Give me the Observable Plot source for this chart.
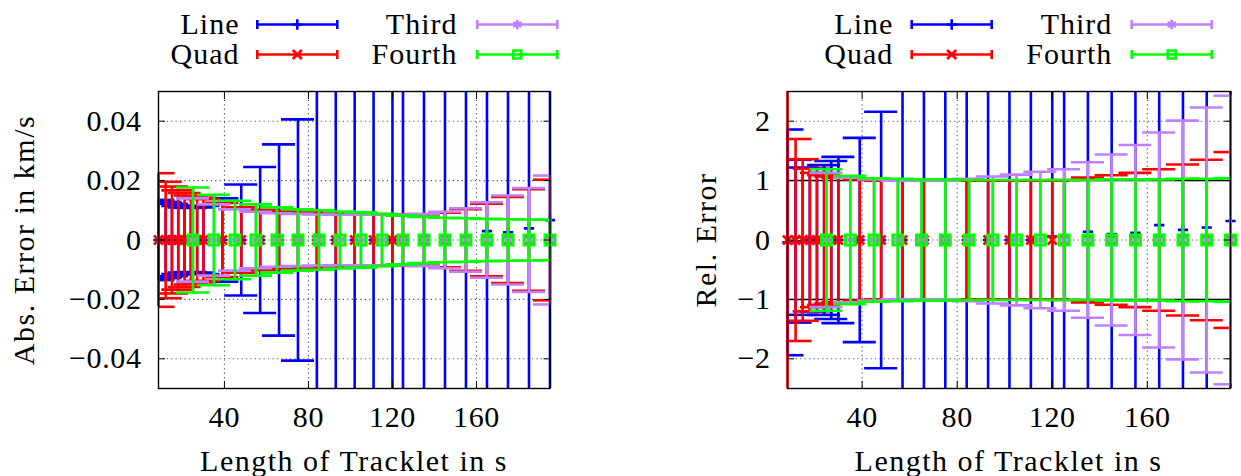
<!DOCTYPE html>
<html><head><meta charset="utf-8">
<script src="https://cdn.jsdelivr.net/npm/d3@7"></script>
<script src="https://cdn.jsdelivr.net/npm/@observablehq/plot@0.6"></script>
<style>
html,body{margin:0;padding:0;background:#fff;}
#root{position:relative;width:1241px;height:476px;overflow:hidden;}
#root svg{position:absolute;top:0;}
</style></head><body><div id="root"></div>
<script>
// ---------- data ----------
const seriesNames = ["Line", "Quad", "Third", "Fourth"];
const seriesColors = ["#0000ff", "#ff0000", "#c080ff", "#00ff00"];
const seriesSymbols = ["plus", "times", "asterisk", "square"];

const xTicks = [40, 80, 120, 160];
const absTicks = [-0.04, -0.02, 0, 0.02, 0.04];
const relTicks = [-2, -1, 0, 1, 2];
const relRefLines = [-1, 1];

// tracklet lengths (s) used by Line / Quad and by Third / Fourth
const xA = [8.6, 12, 15, 18, 21, 24, 27, 30, 39, 48, 57, 66, 75, 84, 93, 102, 111, 120, 125, 135, 145, 155, 165, 175, 185, 195];
const xB = [25, 35, 45, 55, 65, 75, 85, 95, 105, 115, 125, 135, 145, 155, 165, 175, 185, 195];

// absolute error (km/s): mean and standard deviation
const lineAbsMean = [0,0,0,0,0,0,0,0,0,0,0,0,0,0,0,0,0,0,0,0,0,0.001,0.003,0.0026,0.0039,0.0067];
const lineAbsErr = [0.0135,0.0128,0.0122,0.0115,0.011,0.0108,0.011,0.0115,0.014,0.0187,0.0246,0.0322,0.0406,0.052,0.065,0.08,0.095,0.11,0.12,0.14,0.16,0.18,0.2,0.22,0.25,0.28];
const quadAbsErr = [0.0225,0.0196,0.018,0.0167,0.0158,0.015,0.0143,0.0137,0.0125,0.011,0.0102,0.0098,0.0095,0.0093,0.009,0.0088,0.0087,0.0086,0.0086,0.0086,0.0092,0.0104,0.0122,0.0145,0.0171,0.0203];
const thirdAbsErr = [0.014,0.012,0.0103,0.0095,0.009,0.0088,0.0086,0.0085,0.0085,0.0086,0.0086,0.0088,0.0095,0.0107,0.0127,0.015,0.0175,0.0217];
const fourthAbsErr = [0.0177,0.0152,0.0132,0.012,0.011,0.0103,0.01,0.0096,0.0093,0.0088,0.0082,0.0078,0.0075,0.0073,0.0071,0.007,0.0069,0.0068];

// relative error: mean and standard deviation
const lineRelMean = [-0.04,-0.02,-0.02,0,0,0,0,0,0,0,0,0,0,0,0,0,0,0.06,0.08,0.14,0.1,0.12,0.25,0.17,0.21,0.32];
const lineRelErr = [1.9,1.37,1.24,1.2,1.2,1.26,1.33,1.4,1.72,2.16,2.8,3.5,4.2,5,6,7,8,9,10,11,12,13,14,15,16,17];
const quadRelErr = [3.5,1.7,1.36,1.2,1.13,1.09,1.07,1.05,1.02,1.0,1.0,1.0,1.0,1.0,1.0,1.0,1.0,1.0,1.01,1.05,1.09,1.13,1.19,1.27,1.35,1.48];
const thirdRelErr = [1.13,1.05,1.02,1.0,1.0,1.0,1.03,1.07,1.1,1.15,1.19,1.31,1.44,1.6,1.81,2.01,2.23,2.43];
const fourthRelErr = [1.19,1.08,1.04,1.03,1.02,1.02,1.01,1.01,1.01,1.01,1.01,1.01,1.02,1.02,1.02,1.03,1.03,1.04];

const xDomain = [8.6, 195];
const absDomain = [-0.05, 0.05];
const relDomain = [-2.5, 2.5];

// ---------- drawing ----------
const FONT = "Liberation Serif, Times New Roman, serif";
const FS = 30;
const H = 476, frameTop = 91, frameBottom = 388;
const symR = {plus: 3.4, times: 4.2, asterisk: 4.5, square: 5.6};
const minus = s => s.replace("-", "\u2212");

function panel({svgLeft, svgWidth, frameLeft, frameRight, yDomain, yTicks, yFormat, sets, refs}) {
  const pxPerUnit = (frameRight - frameLeft) / (xDomain[1] - xDomain[0]);
  const capHalf = 16.5 / pxPerUnit;
  const clampY = v => Math.max(yDomain[0], Math.min(yDomain[1], v));
  const inY = v => v >= yDomain[0] && v <= yDomain[1];
  const grid = {stroke: "#555", strokeOpacity: 1, strokeWidth: 1.1, strokeDasharray: "1.2,3.2"};
  const marks = [
    Plot.gridX({ticks: xTicks, ...grid}),
    Plot.gridY({ticks: yTicks, ...grid})
  ];
  if (refs) marks.push(Plot.ruleY(refs, {stroke: "black", strokeWidth: 1.5}));
  sets.forEach((s, k) => {
    const color = seriesColors[k], symbol = seriesSymbols[k];
    const data = s.x.map((x, i) => ({x, m: s.mean ? s.mean[i] : 0, e: s.err[i]}));
    const caps = data.flatMap(d => [{x: d.x, y: d.m + d.e}, {x: d.x, y: d.m - d.e}]).filter(c => inY(c.y));
    marks.push(Plot.ruleX(data, {x: "x", y1: d => clampY(d.m - d.e), y2: d => clampY(d.m + d.e), stroke: color, strokeWidth: 2.6}));
    marks.push(Plot.ruleY(caps, {y: "y", x1: d => Math.max(xDomain[0], d.x - capHalf), x2: d => Math.min(xDomain[1], d.x + capHalf), stroke: color, strokeWidth: 2.6}));
    marks.push(Plot.dot(data.filter(d => inY(d.m)), {x: "x", y: "m", symbol, stroke: color, fill: "none", r: symR[symbol], strokeWidth: symbol === "square" ? 3 : 2.6}));
  });
  const ax = {tickSize: -7, label: null, fontSize: FS, stroke: "black"};
  marks.push(
    Plot.axisX({anchor: "bottom", ticks: xTicks, tickPadding: 24, tickFormat: d => String(d), ...ax}),
    Plot.axisX({anchor: "top", ticks: xTicks, tickPadding: 0, tickFormat: () => "", ...ax}),
    Plot.axisY({anchor: "left", ticks: yTicks, tickPadding: 24, tickFormat: yFormat, ...ax}),
    Plot.axisY({anchor: "right", ticks: yTicks, tickPadding: 0, tickFormat: () => "", ...ax}),
    Plot.frame({stroke: "black", strokeWidth: 1.4})
  );
  const svg = Plot.plot({
    width: svgWidth, height: H,
    marginLeft: frameLeft - svgLeft, marginRight: svgLeft + svgWidth - frameRight,
    marginTop: frameTop, marginBottom: H - frameBottom,
    x: {domain: xDomain},
    y: {domain: yDomain},
    style: {fontFamily: FONT, fontSize: FS + "px", letterSpacing: "0.6px", background: "transparent", overflow: "visible"},
    marks
  });
  svg.style.left = svgLeft + "px";
  return svg;
}

const root = document.getElementById("root");
const absFmt = d => d === 0 ? "0" : minus(d3.format(".2f")(d));
const relFmt = d => minus(String(d));

root.appendChild(panel({
  svgLeft: 0, svgWidth: 620, frameLeft: 158, frameRight: 549.5,
  yDomain: absDomain, yTicks: absTicks, yFormat: absFmt,
  sets: [
    {x: xA, mean: lineAbsMean, err: lineAbsErr},
    {x: xA, err: quadAbsErr},
    {x: xB, err: thirdAbsErr},
    {x: xB, err: fourthAbsErr}
  ]
}));
root.appendChild(panel({
  svgLeft: 620, svgWidth: 621, frameLeft: 787, frameRight: 1230,
  yDomain: relDomain, yTicks: relTicks, yFormat: relFmt, refs: relRefLines,
  sets: [
    {x: xA, mean: lineRelMean, err: lineRelErr},
    {x: xA, err: quadRelErr},
    {x: xB, err: thirdRelErr},
    {x: xB, err: fourthRelErr}
  ]
}));

// ---------- text overlay: legends and axis titles ----------
const ov = d3.select(root).append("svg")
  .attr("width", 1241).attr("height", H)
  .style("left", "0px")
  .attr("font-family", FONT).attr("font-size", FS);

function legend(textRight1, sampleLeft1, textRight2, sampleLeft2) {
  const rows = [24.5, 54.5];
  const cols = [[textRight1, sampleLeft1], [textRight2, sampleLeft2]];
  seriesNames.forEach((name, k) => {
    const col = cols[k < 2 ? 0 : 1], y = rows[k % 2];
    const color = seriesColors[k];
    ov.append("text").attr("x", col[0]).attr("y", y + 9.5).attr("text-anchor", "end")
      .attr("letter-spacing", "1px").text(name);
    const g = ov.append("g").attr("stroke", color).attr("stroke-width", 2.6).attr("fill", "none");
    g.append("line").attr("x1", col[1]).attr("x2", col[1] + 80).attr("y1", y).attr("y2", y);
    g.append("line").attr("x1", col[1]).attr("x2", col[1]).attr("y1", y - 4.5).attr("y2", y + 4.5);
    g.append("line").attr("x1", col[1] + 80).attr("x2", col[1] + 80).attr("y1", y - 4.5).attr("y2", y + 4.5);
    const symMap = {plus: d3.symbolPlus, times: d3.symbolTimes, asterisk: d3.symbolAsterisk, square: d3.symbolSquare};
    const r = symR[seriesSymbols[k]] * (seriesSymbols[k] === "square" ? 0.8 : 1);
    g.append("path").attr("transform", `translate(${col[1] + 40},${y})`)
      .attr("d", d3.symbol(symMap[seriesSymbols[k]], Math.PI * r * r)());
  });
}
legend(239.5, 257.3, 457.5, 477.3);
legend(893.3, 911.7, 1112.3, 1131.7);

const titleSpacing = "1.5px";
ov.append("text").attr("x", 354).attr("y", 471).attr("text-anchor", "middle").attr("letter-spacing", titleSpacing).text("Length of Tracklet in s");
ov.append("text").attr("x", 1008.5).attr("y", 471).attr("text-anchor", "middle").attr("letter-spacing", titleSpacing).text("Length of Tracklet in s");
ov.append("text").attr("transform", "translate(34,240) rotate(-90)").attr("text-anchor", "middle").attr("letter-spacing", titleSpacing).text("Abs. Error in km/s");
ov.append("text").attr("transform", "translate(716,240) rotate(-90)").attr("text-anchor", "middle").attr("letter-spacing", titleSpacing).text("Rel. Error");
</script></body></html>
